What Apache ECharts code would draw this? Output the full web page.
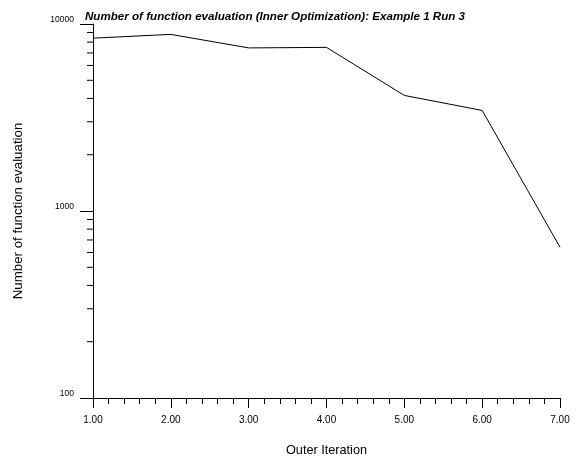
<!DOCTYPE html>
<html>
<head>
<meta charset="utf-8">
<script src="https://cdn.jsdelivr.net/npm/echarts@6/dist/echarts.min.js"></script>
<style>
  html, body { margin: 0; padding: 0; background: #fff; }
  #chart { width: 578px; height: 459px; }
</style>
</head>
<body>
<div id="chart"></div>
<script>
// Outer iteration index and the number of inner-optimization function evaluations
const iterations = [1, 2, 3, 4, 5, 6, 7];
const evaluations = [8400, 8800, 7450, 7500, 4150, 3450, 640];
// Log-axis minor tick values (2..9 within each decade)
const yMinorTicks = [200, 300, 400, 500, 600, 700, 800, 900,
                     2000, 3000, 4000, 5000, 6000, 7000, 8000, 9000];

const font = '"Liberation Sans", Arial, sans-serif';
const chart = echarts.init(document.getElementById('chart'), null, { renderer: 'canvas' });

chart.setOption({
  animation: false,
  backgroundColor: '#fff',
  title: {
    text: 'Number of function evaluation (Inner Optimization): Example 1 Run 3',
    left: 80,
    top: 6,
    textStyle: { fontFamily: font, fontSize: 11.6, fontWeight: 'bold', fontStyle: 'italic', color: '#000' }
  },
  grid: { left: 93, right: 18, top: 24, bottom: 61, containLabel: false, outerBoundsMode: 'none' },
  xAxis: {
    type: 'value',
    min: 1, max: 7, interval: 1,
    name: 'Outer Iteration',
    nameLocation: 'middle',
    nameGap: 46,
    nameTextStyle: { fontFamily: font, fontSize: 12.7, color: '#000' },
    axisLine: { onZero: false, lineStyle: { color: '#000', width: 1 } },
    axisTick: { inside: false, length: 10, lineStyle: { color: '#000' } },
    minorTick: { show: true, splitNumber: 5, length: 6, lineStyle: { color: '#000' } },
    axisLabel: {
      fontFamily: font, fontSize: 10, color: '#000', margin: 17,
      formatter: v => v.toFixed(2)
    },
    splitLine: { show: false }
  },
  yAxis: {
    type: 'log',
    logBase: 10,
    min: 100, max: 10000,
    name: 'Number of function evaluation',
    nameLocation: 'middle',
    nameGap: 68,
    nameTextStyle: { fontFamily: font, fontSize: 13.3, color: '#000' },
    axisLine: { show: true, lineStyle: { color: '#000', width: 1 } },
    axisTick: { show: true, length: 13, lineStyle: { color: '#000' } },
    axisLabel: {
      fontFamily: font, fontSize: 8.5, color: '#000', margin: 19,
      verticalAlign: 'bottom',
      lineHeight: 8,
      formatter: v => String(Math.round(v))
    },
    splitLine: { show: false }
  },
  series: [
    {
      type: 'line',
      data: iterations.map((x, i) => [x, evaluations[i]]),
      symbol: 'none',
      lineStyle: { color: '#000', width: 1 },
      clip: false
    },
    {
      // Minor ticks for the logarithmic value axis
      type: 'custom',
      silent: true,
      clip: false,
      data: yMinorTicks.map(v => [iterations[0], v]),
      renderItem: (params, api) => {
        const p = api.coord([api.value(0), api.value(1)]);
        return {
          type: 'line',
          shape: { x1: p[0] - 6, y1: p[1], x2: p[0], y2: p[1] },
          style: { stroke: '#000', lineWidth: 1 }
        };
      }
    }
  ]
});
</script>
</body>
</html>
